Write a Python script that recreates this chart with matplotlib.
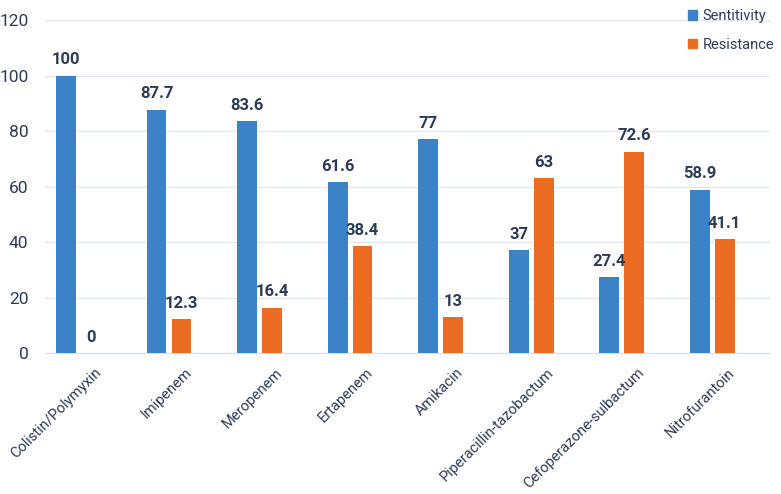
import numpy as np
import matplotlib.pyplot as plt
from matplotlib.patches import Patch

drugs = ["Colistin/Polymyxin", "Imipenem", "Meropenem", "Ertapenem",
         "Amikacin", "Piperacillin-tazobactum", "Cefoperazone-sulbactum",
         "Nitrofurantoin"]
sensitivity = [100, 87.7, 83.6, 61.6, 77, 37, 27.4, 58.9]
resistance = [0, 12.3, 16.4, 38.4, 13, 63, 72.6, 41.1]
yticks = [0, 20, 40, 60, 80, 100, 120]

BLUE = "#3C82C7"
ORANGE = "#EC6B23"
TEXT = "#2E3B55"

plt.rcParams["font.family"] = ["Roboto", "DejaVu Sans"]

fig = plt.figure(figsize=(7.81, 4.94), dpi=100)
ax = fig.add_axes([0.0576, 0.2854, 0.9284, 0.6741])

x = np.arange(len(drugs))
w = 0.22
off = 0.138
b1 = ax.bar(x - off, sensitivity, w, color=BLUE, zorder=3)
b2 = ax.bar(x + off, resistance, w, color=ORANGE, zorder=3)

for bars, vals in ((b1, sensitivity), (b2, resistance)):
    for rect, v in zip(bars, vals):
        ax.annotate(f"{v:g}", (rect.get_x() + rect.get_width() / 2, v),
                    xytext=(0, 6), textcoords="offset points",
                    ha="center", va="bottom", fontsize=12,
                    fontweight="bold", color=TEXT)

ax.set_xlim(-0.37, 7.64)
ax.set_ylim(0, 120)
ax.set_yticks(yticks)
ax.yaxis.grid(True, color="#E4E7EE", linewidth=1, zorder=0)
for s in ("top", "right", "left"):
    ax.spines[s].set_visible(False)
ax.spines["bottom"].set_color("#D9DDE6")
ax.tick_params(axis="y", length=0, labelsize=12.5, colors=TEXT, pad=12)
ax.tick_params(axis="x", length=0, labelsize=10.5, colors=TEXT, pad=9)

ax.set_xticks(x + 0.17)
ax.set_xticklabels(drugs, rotation=45, ha="right", va="top",
                   rotation_mode="anchor")

handles = [Patch(color=BLUE, label="Sentitivity"),
           Patch(color=ORANGE, label="Resistance")]
leg = fig.legend(handles=handles, loc="upper left",
                 bbox_to_anchor=(0.866, 1.005), frameon=False,
                 handlelength=0.6, handleheight=0.6, handletextpad=0.4,
                 borderpad=0.3, labelspacing=1.0, fontsize=10.5)
for t in leg.get_texts():
    t.set_color(TEXT)

fig.savefig("out.png", dpi=100)
